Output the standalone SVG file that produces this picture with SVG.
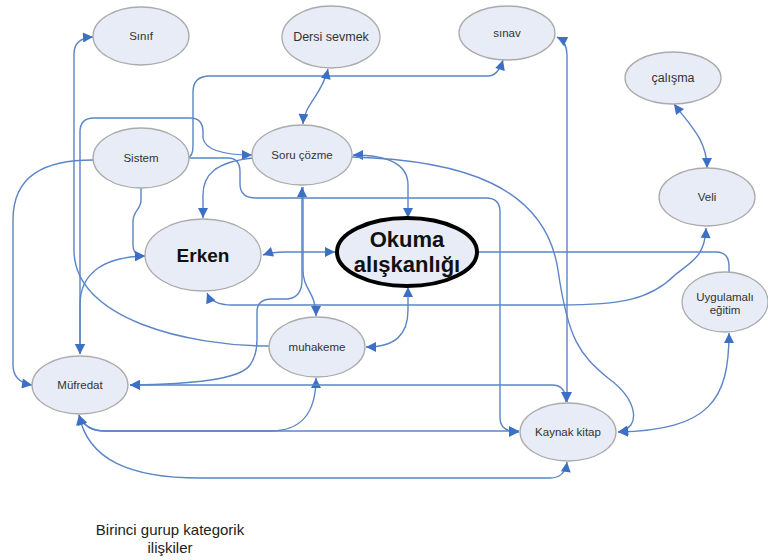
<svg xmlns="http://www.w3.org/2000/svg" width="768" height="560" viewBox="0 0 768 560">
<style>
.n{fill:#E7ECF6;stroke:#ABABAB;stroke-width:1.3}
.t{font-family:"Liberation Sans",Arial,sans-serif;font-size:11.5px;fill:#333;text-anchor:middle}
.b{font-family:"Liberation Sans",Arial,sans-serif;font-weight:bold;fill:#111;text-anchor:middle}
.c path{fill:none;stroke:#5B85C6;stroke-width:1.4}
.cap{font-family:"Liberation Sans",Arial,sans-serif;font-size:15px;fill:#222;text-anchor:middle}
</style>
<defs>
<marker id="a" viewBox="0 0 10 10" refX="10" refY="5" markerUnits="userSpaceOnUse" markerWidth="12" markerHeight="10" orient="auto-start-reverse">
<path d="M0,0 L10,5 L0,10 z" fill="#3C70C4"/>
</marker>
</defs>
<rect width="768" height="560" fill="#fff"/>
<g class="c" id="connectors">
<path d="M269,346 C190,346 74,320 74,250 L74,54 Q74,38 93,37" marker-end="url(#a)"/>
<path d="M80,354 L80,132 Q80,118 94,118 L190,118 Q203,118 203,132 L203,138 Q206,155 252,155" marker-start="url(#a)" marker-end="url(#a)"/>
<path d="M93,160 C45,160 13,175 13,220 L13,365 Q13,382 32,385" marker-end="url(#a)"/>
<path d="M141,188 L141,200 C141,210 133,210 133,222 L133,245 Q133,256 145,256" marker-end="url(#a)"/>
<path d="M188,157 Q193,157 193,145 L193,92 Q193,76 210,76 L488,76 Q498,76 503,60" marker-end="url(#a)"/>
<path d="M188,158 L228,158 Q240,158 240,172 L240,184 Q240,198 256,198 L486,198 Q500,198 500,212 L500,418 Q500,432 519,432" marker-end="url(#a)"/>
<path d="M328,69 C322,95 304,105 303,124" marker-start="url(#a)" marker-end="url(#a)"/>
<path d="M253,158 C215,162 203,175 203,195 L203,218" marker-end="url(#a)"/>
<path d="M353,155 C390,155 408,165 408,185 L408,218" marker-start="url(#a)" marker-end="url(#a)"/>
<path d="M352,157 C460,160 545,185 558,270 C568,340 580,355 608,378 C638,400 642,428 618,432" marker-end="url(#a)"/>
<path d="M303,187 L303,270 C303,290 316,292 316,316" marker-end="url(#a)"/>
<path d="M130,385 C190,384 240,380 250,365 Q257,355 257,340 L257,312 Q257,299 272,299 L288,299 Q302,297 302,280 L302,187" marker-start="url(#a)" marker-end="url(#a)"/>
<path d="M263,255 Q272,252 285,252 L335,252" marker-start="url(#a)" marker-end="url(#a)"/>
<path d="M207,293 Q212,305 232,305 L560,305 C620,305 650,300 675,275 C690,262 705,258 706,228" marker-start="url(#a)" marker-end="url(#a)"/>
<path d="M80,354 L80,305 C80,272 105,257 145,256" marker-start="url(#a)" marker-end="url(#a)"/>
<path d="M366,347 C395,347 408,335 408,310 L408,287" marker-start="url(#a)" marker-end="url(#a)"/>
<path d="M79,415 Q85,431 105,431 L270,431 C300,431 316,415 316,378" marker-start="url(#a)" marker-end="url(#a)"/>
<path d="M79,415 Q85,431 105,431 L519,431" marker-end="url(#a)"/>
<path d="M79,415 C88,460 130,478 200,478 L550,478 Q565,478 567,462" marker-start="url(#a)" marker-end="url(#a)"/>
<path d="M130,385 L552,385 Q566,385 566,402" marker-start="url(#a)" marker-end="url(#a)"/>
<path d="M567,402 L567,55 Q567,42 557,37" marker-start="url(#a)" marker-end="url(#a)"/>
<path d="M674,104 C690,125 707,140 707,168" marker-start="url(#a)" marker-end="url(#a)"/>
<path d="M477,252 L716,252 Q729,252 729,266 L729,272"/>
<path d="M729,333 C729,400 710,430 618,432" marker-start="url(#a)" marker-end="url(#a)"/>
</g>
<g id="sinif"><ellipse class="n" cx="141" cy="36" rx="48" ry="29"/><text class="t" x="141" y="40">Sınıf</text></g>
<g id="dersi"><ellipse class="n" cx="331" cy="37" rx="49" ry="31"/><text class="t" x="331" y="41" style="font-size:12.5px">Dersi sevmek</text></g>
<g id="sinav"><ellipse class="n" cx="507" cy="33" rx="48" ry="27"/><text class="t" x="507" y="37">sınav</text></g>
<g id="calisma"><ellipse class="n" cx="673" cy="78" rx="48" ry="26"/><text class="t" x="673" y="82" style="font-size:12.5px">çalışma</text></g>
<g id="sistem"><ellipse class="n" cx="141" cy="158" rx="48" ry="30"/><text class="t" x="141" y="162">Sistem</text></g>
<g id="soru"><ellipse class="n" cx="302" cy="155" rx="50" ry="30"/><text class="t" x="302" y="159">Soru çözme</text></g>
<g id="veli"><ellipse class="n" cx="707" cy="197" rx="48" ry="29"/><text class="t" x="707" y="201">Veli</text></g>
<g id="erken"><ellipse class="n" cx="203" cy="255" rx="58" ry="36"/><text class="b" x="203" y="262" style="font-size:19px">Erken</text></g>
<g id="okuma"><ellipse cx="407" cy="252" rx="70" ry="34" fill="#E7ECF6" stroke="#000" stroke-width="4"/><text class="b" x="407" y="247" style="font-size:22px">Okuma</text><text class="b" x="407" y="272" style="font-size:22px">alışkanlığı</text></g>
<g id="uygulamali"><ellipse class="n" cx="725" cy="302" rx="43" ry="30"/><text class="t" x="725" y="301">Uygulamalı</text><text class="t" x="725" y="314">eğitim</text></g>
<g id="muhakeme"><ellipse class="n" cx="317" cy="347" rx="48" ry="30"/><text class="t" x="317" y="351">muhakeme</text></g>
<g id="mufredat"><ellipse class="n" cx="80" cy="385" rx="48" ry="29"/><text class="t" x="80" y="389">Müfredat</text></g>
<g id="kaynak"><ellipse class="n" cx="568" cy="432" rx="48" ry="29"/><text class="t" x="568" y="436">Kaynak kitap</text></g>
<g id="caption"><text class="cap" x="170" y="535">Birinci gurup kategorik</text><text class="cap" x="170" y="553">ilişkiler</text></g>
</svg>
